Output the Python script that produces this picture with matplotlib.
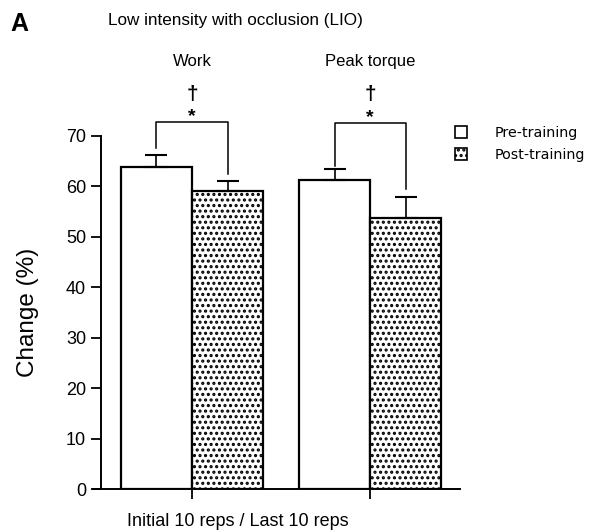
import matplotlib
matplotlib.use("Agg")
import matplotlib.pyplot as plt
from matplotlib.patches import Patch
import numpy as np

groups = ["Work", "Peak torque"]
pre_vals = [63.8, 61.3]
pre_err = [2.4, 2.2]
post_vals = [59.0, 53.7]
post_err = [2.0, 4.2]
bracket_top = [72.7, 72.6]
bracket_left_end = [67.6, 64.0]
bracket_right_end = [62.5, 59.5]
yticks = [0, 10, 20, 30, 40, 50, 60, 70]

plt.rcParams['font.family'] = ['Liberation Sans', 'DejaVu Sans']
plt.rcParams['hatch.linewidth'] = 1.5

fig = plt.figure(figsize=(5.98, 5.32), dpi=100)
ax = fig.add_axes([0.1555, 0.0803, 0.6137, 0.7594])

centers = np.array([0.0, 2.5])
w = 1.0
ax.bar(centers - w / 2, pre_vals, width=w, color='white', edgecolor='black', linewidth=1.6, zorder=2)
ax.bar(centers + w / 2, post_vals, width=w, color='white', edgecolor='black', linewidth=1.6,
       hatch='...', zorder=2)
ax.errorbar(centers - w / 2, pre_vals, yerr=[np.zeros(2), pre_err], fmt='none', ecolor='black',
            elinewidth=1.2, capsize=8, capthick=1.5, zorder=3)
ax.errorbar(centers + w / 2, post_vals, yerr=[np.zeros(2), post_err], fmt='none', ecolor='black',
            elinewidth=1.2, capsize=8, capthick=1.5, zorder=3)

for i, c in enumerate(centers):
    xl, xr = c - w / 2, c + w / 2
    ax.plot([xl, xl, xr, xr], [bracket_left_end[i], bracket_top[i], bracket_top[i], bracket_right_end[i]],
            color='black', lw=1.1, clip_on=False, zorder=3)
    ax.text(c, bracket_top[i] + 0.2, '*', ha='center', va='baseline', fontsize=14, fontweight='bold',
            clip_on=False)
    ax.text(c, bracket_top[i] + 4.4, '\u2020', ha='center', va='baseline', fontsize=15, fontweight='bold',
            clip_on=False)
    ax.text(c, 83.3, groups[i], ha='center', va='bottom', fontsize=12, clip_on=False)

ax.set_xlim(-1.39, 3.76)
ax.set_ylim(0, 80)
ax.spines['top'].set_visible(False)
ax.spines['right'].set_visible(False)
ax.spines['left'].set_position(('data', -1.28))
ax.spines['left'].set_bounds(0, 70)
ax.spines['left'].set_linewidth(1.4)
ax.spines['bottom'].set_linewidth(1.4)
ax.set_yticks(yticks)
ax.set_yticklabels([str(t) for t in yticks], fontsize=13)
ax.set_xticks(centers)
ax.set_xticklabels([])
ax.tick_params(axis='both', direction='out', length=7, width=1.3)
ax.set_ylabel('Change (%)', fontsize=17.5)
ax.yaxis.set_label_coords(-0.147, 0.439)
ax.set_xlabel('Initial 10 reps / Last 10 reps', fontsize=13)
ax.xaxis.set_label_coords(0.395, -0.058)

fig.text(0.018, 0.955, 'A', fontsize=18, fontweight='bold', ha='left', va='center')
fig.text(0.181, 0.962, 'Low intensity with occlusion (LIO)', fontsize=12.3, ha='left', va='center')

handles = [Patch(facecolor='white', edgecolor='black', linewidth=1.2, label='Pre-training'),
           Patch(facecolor='white', edgecolor='black', linewidth=1.2, hatch='...', label='Post-training')]
fig.legend(handles=handles, loc='upper left', bbox_to_anchor=(455 / 598, 1 - 126 / 532), frameon=False,
           prop={'family': 'DejaVu Sans', 'size': 10.3}, handlelength=0.85, handleheight=0.85,
           handletextpad=1.9, labelspacing=0.55, borderpad=0, borderaxespad=0)

fig.savefig('out.png', dpi=100)
